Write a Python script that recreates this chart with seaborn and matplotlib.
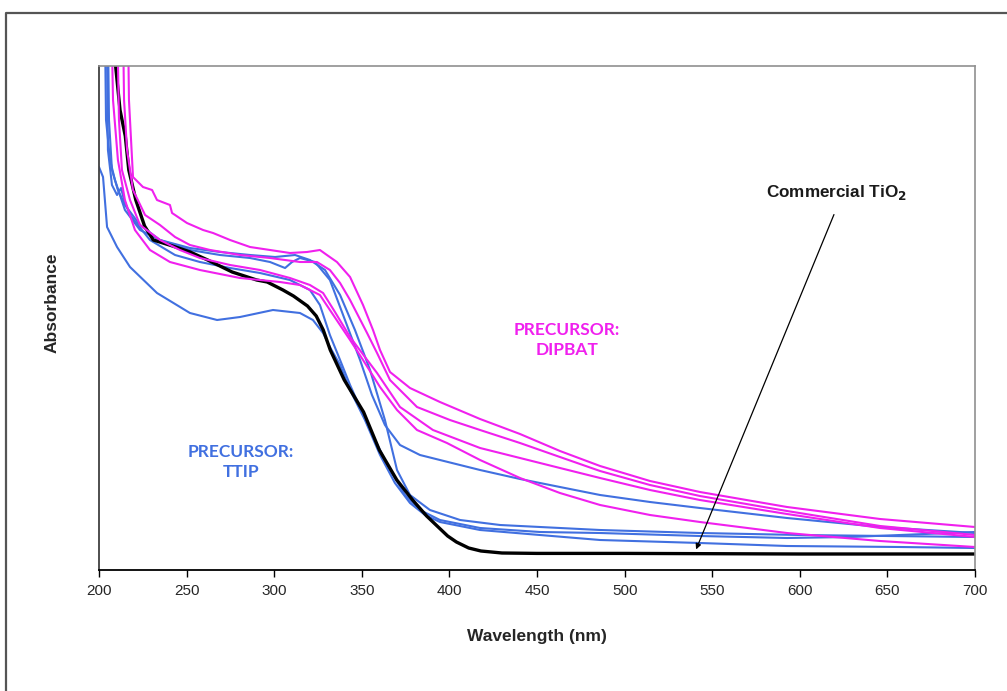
import matplotlib
matplotlib.use("Agg")
import matplotlib.pyplot as plt
from matplotlib.lines import Line2D
import seaborn as sns

# ---------------- data ----------------
# Commercial TiO2 (black)
w_black = [208, 212, 215, 217, 221, 226, 231, 242, 252, 262, 276, 290, 296, 305, 311, 319, 324, 328,
           332, 340, 351, 360, 370, 379, 387, 393, 399, 404, 411, 418, 430, 450, 500, 600, 700]
a_black = [2.65, 2.30, 2.17, 2.00, 1.85, 1.72, 1.65, 1.62, 1.59, 1.55, 1.49, 1.45, 1.44, 1.40, 1.37, 1.32,
           1.27, 1.20, 1.10, 0.95, 0.79, 0.60, 0.45, 0.35, 0.27, 0.22, 0.17, 0.14, 0.11, 0.095, 0.085,
           0.083, 0.083, 0.08, 0.08]

# Precursor DIPBAT (magenta)
w_m1 = [216.0, 217.1, 219.4, 225.1, 230.3, 233.1, 240.5, 241.7, 250.2, 259.4, 265.1, 274.8, 286.2, 297.6,
        309.0, 318.7, 326.1, 330.1, 335.8, 343.3, 350.7, 356.4, 360.4, 366.1, 377.5, 394.6, 417.5, 440.3,
        463.1, 486.0, 514.5, 543.0, 592.7, 645.8, 700.0]
a_m1 = [3.10, 2.35, 1.965, 1.915, 1.90, 1.85, 1.825, 1.785, 1.735, 1.70, 1.685, 1.65, 1.615, 1.60,
        1.585, 1.59, 1.60, 1.575, 1.54, 1.465, 1.325, 1.20, 1.10, 0.99, 0.91, 0.84, 0.755, 0.68,
        0.595, 0.52, 0.445, 0.39, 0.315, 0.255, 0.215]

w_m2 = [213.1, 214.3, 216.0, 219.4, 226.3, 234.8, 243.4, 251.9, 263.4, 280.5, 297.6, 314.7, 324.4, 331.8,
        337.6, 343.3, 353.0, 358.7, 366.1, 381.5, 400.3, 417.5, 440.3, 463.1, 486.0, 514.5, 543.0, 592.7,
        645.8, 700.0]
a_m2 = [3.10, 2.35, 2.10, 1.90, 1.775, 1.725, 1.665, 1.625, 1.60, 1.575, 1.56, 1.54, 1.54, 1.50,
        1.435, 1.35, 1.185, 1.085, 0.95, 0.815, 0.75, 0.70, 0.635, 0.565, 0.495, 0.425, 0.37, 0.295,
        0.22, 0.175]

w_m3 = [209.7, 211.4, 213.1, 217.7, 223.4, 234.8, 246.2, 257.6, 274.8, 291.9, 309.0, 320.4, 327.9, 334.7,
        343.3, 351.8, 358.7, 371.8, 390.6, 417.5, 440.3, 463.1, 486.0, 514.5, 543.0, 592.7, 645.8, 700.0]
a_m3 = [3.10, 2.25, 2.00, 1.85, 1.725, 1.65, 1.60, 1.56, 1.525, 1.50, 1.46, 1.425, 1.385, 1.29,
        1.165, 1.065, 0.985, 0.815, 0.70, 0.61, 0.56, 0.51, 0.46, 0.40, 0.35, 0.28, 0.21, 0.165]

w_m4 = [206.3, 208.0, 210.8, 214.8, 220.5, 229.1, 240.5, 257.6, 280.5, 303.3, 314.7, 326.1, 331.8, 343.3,
        350.7, 360.4, 370.1, 381.5, 398.6, 417.5, 440.3, 463.1, 486.0, 514.5, 543.0, 592.7, 645.8, 700.0]
a_m4 = [3.10, 2.35, 2.05, 1.85, 1.70, 1.60, 1.54, 1.50, 1.46, 1.44, 1.425, 1.375, 1.30, 1.15,
        1.05, 0.915, 0.80, 0.70, 0.635, 0.55, 0.46, 0.385, 0.325, 0.275, 0.24, 0.185, 0.145, 0.115]

# Precursor TTIP (blue)
w_b1 = [200.0, 202.3, 204.6, 210.3, 217.7, 233.1, 251.9, 267.4, 280.5, 299.3, 314.7, 322.1, 327.9, 331.8,
        337.6, 343.3, 351.8, 360.4, 368.9, 377.5, 386.1, 394.6, 417.5, 451.7, 486.0, 543.0, 592.7, 657.2, 700.0]
a_b1 = [2.015, 1.965, 1.715, 1.615, 1.515, 1.385, 1.285, 1.25, 1.265, 1.30, 1.285, 1.25, 1.185, 1.115,
        1.025, 0.90, 0.75, 0.575, 0.435, 0.335, 0.275, 0.24, 0.20, 0.175, 0.15, 0.135, 0.12, 0.115, 0.11]

w_b2 = [202.9, 204.0, 206.3, 209.1, 214.8, 223.4, 234.8, 251.9, 269.1, 286.2, 300.5, 311.9, 320.4, 329.0,
        337.6, 346.1, 354.7, 363.2, 370.1, 377.5, 388.9, 406.1, 428.9, 486.0, 543.0, 600.1, 700.0]
a_b2 = [3.10, 2.25, 2.05, 1.95, 1.80, 1.70, 1.65, 1.61, 1.59, 1.575, 1.565, 1.575, 1.55, 1.50,
        1.375, 1.20, 1.00, 0.75, 0.50, 0.375, 0.30, 0.25, 0.225, 0.20, 0.185, 0.175, 0.165]

w_b3 = [204.6, 205.7, 207.4, 210.8, 214.8, 223.4, 234.8, 251.9, 269.1, 286.2, 297.6, 306.2, 310.2, 314.7,
        323.3, 331.8, 340.4, 349.0, 355.8, 363.2, 371.8, 383.2, 394.6, 417.5, 440.3, 463.1, 486.0, 514.5,
        543.0, 592.7, 645.8, 700.0]
a_b3 = [3.10, 2.25, 2.00, 1.90, 1.825, 1.725, 1.65, 1.60, 1.575, 1.56, 1.54, 1.51, 1.54, 1.56,
        1.54, 1.45, 1.25, 1.05, 0.875, 0.725, 0.625, 0.575, 0.55, 0.50, 0.455, 0.415, 0.375, 0.34,
        0.31, 0.26, 0.215, 0.185]

w_b4 = [204.0, 205.1, 207.4, 210.3, 212.6, 214.3, 217.7, 229.1, 243.4, 257.6, 274.8, 291.9, 309.0, 320.4,
        326.1, 331.8, 337.6, 343.3, 354.7, 366.1, 374.7, 383.2, 394.6, 417.5, 451.7, 486.0, 543.0, 592.7,
        628.7, 657.2, 700.0]
a_b4 = [3.10, 2.10, 1.925, 1.875, 1.91, 1.85, 1.775, 1.65, 1.575, 1.54, 1.51, 1.485, 1.45, 1.40,
        1.325, 1.175, 1.05, 0.925, 0.70, 0.50, 0.375, 0.30, 0.25, 0.21, 0.19, 0.185, 0.17, 0.16,
        0.165, 0.175, 0.19]

x_ticks = [200, 250, 300, 350, 400, 450, 500, 550, 600, 650, 700]

BLUE = "#4170e0"
MAGENTA = "#f020ee"

# ---------------- plotting ----------------
sns.set_theme(style="white")
plt.rcParams["font.family"] = ["Liberation Sans", "DejaVu Sans"]

fig = plt.figure(figsize=(10.07, 6.91), dpi=100)
ax = fig.add_axes([99 / 1007, 1 - 570 / 691, 876 / 1007, 504 / 691])

blues = [(w_b1, a_b1), (w_b2, a_b2), (w_b3, a_b3), (w_b4, a_b4)]
magentas = [(w_m1, a_m1), (w_m2, a_m2), (w_m3, a_m3), (w_m4, a_m4)]

for w, a in blues:
    sns.lineplot(x=w, y=a, ax=ax, color=BLUE, lw=1.5, sort=False, estimator=None)
sns.lineplot(x=w_black, y=a_black, ax=ax, color="black", lw=2.4, sort=False, estimator=None)
for w, a in magentas:
    sns.lineplot(x=w, y=a, ax=ax, color=MAGENTA, lw=1.5, sort=False, estimator=None)

ax.set_xlim(200, 700)
ax.set_ylim(0, 2.52)
ax.set_xticks(x_ticks)
ax.set_xticklabels([str(t) for t in x_ticks], fontsize=11)
ax.set_yticks([])
ax.tick_params(axis="x", direction="out", length=5, width=1, color="black", pad=5, bottom=True)

for side in ["top", "right"]:
    ax.spines[side].set_color("#909090")
    ax.spines[side].set_linewidth(1.2)
ax.spines["left"].set_color("#404040")
ax.spines["left"].set_linewidth(1.3)
ax.spines["bottom"].set_color("black")
ax.spines["bottom"].set_linewidth(1.3)

ax.set_xlabel("Wavelength (nm)", fontsize=12.5, fontweight="bold")
ax.xaxis.set_label_coords(0.5, -0.118)
ax.set_ylabel("Absorbance", fontsize=12.5, fontweight="bold")
ax.yaxis.set_label_coords(-0.045, 0.53)

# annotations
ax.text(620.7, 1.885, r"Commercial TiO$_\mathbf{2}$", fontsize=12.3, fontweight="bold",
        ha="center", va="center", color="#1a1a1a")
ax.annotate("", xy=(540.2, 0.09), xytext=(620.1, 1.79),
            arrowprops=dict(arrowstyle="-|>", lw=0.9, color="black", mutation_scale=8))

ax.text(467.1, 1.15, "PRECURSOR:\nDIPBAT", fontsize=12.5, fontweight="bold", color=MAGENTA,
        ha="center", va="center", family=["Lato", "DejaVu Sans"], linespacing=1.3)
ax.text(281.1, 0.54, "PRECURSOR:\nTTIP", fontsize=12.5, fontweight="bold", color=BLUE,
        ha="center", va="center", family=["Lato", "DejaVu Sans"], linespacing=1.3)

# figure border (left and top edges visible)
fig.add_artist(Line2D([6 / 1007, 6 / 1007, 1.0], [0.0, 1 - 12.5 / 691, 1 - 12.5 / 691],
                      transform=fig.transFigure, color="#555555", lw=1.6))

fig.savefig("out.png", dpi=100)
